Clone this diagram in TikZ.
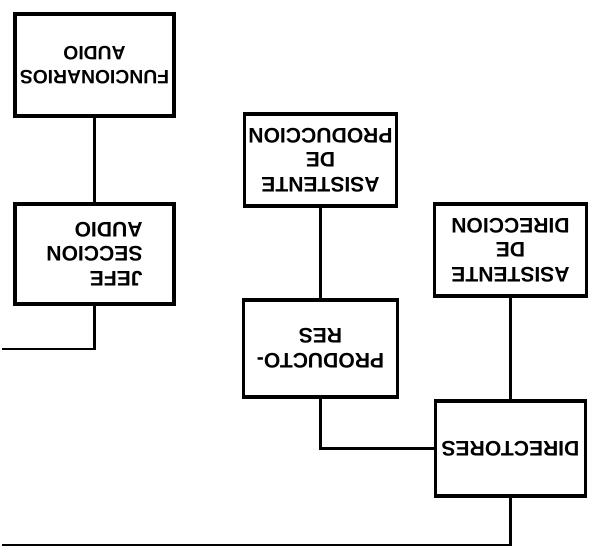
\documentclass[tikz,border=0pt]{standalone}
\usepackage{fontspec}
\setmainfont{Liberation Sans}
\tikzset{
  caja/.style={draw, line width=3.2pt, rotate=180, inner sep=0pt, align=center,
    font=\bfseries\fontsize{18}{21}\selectfont},
  linea/.style={line width=2.5pt}
}
\begin{document}
\begin{tikzpicture}[x=0.03cm,y=-0.03cm]
  \useasboundingbox (0,0) rectangle (592,549);
  \node[caja, minimum width=4.77cm, minimum height=3.06cm, font=\bfseries\fontsize{16.5}{21}\selectfont] (func) at (94.5,65) {FUNCIONARIOS\\AUDIO};
  \node[caja, minimum width=4.77cm, minimum height=3.0cm, align=left] (jefe) at (94.5,254) {JEFE\\SECCION\\AUDIO};
  \node[caja, minimum width=4.56cm, minimum height=2.76cm] (aprod) at (320.5,160) {ASISTENTE\\DE\\PRODUCCION};
  \node[caja, minimum width=4.62cm, minimum height=2.91cm] (prod) at (320.5,348.5) {PRODUCTO-\\RES};
  \node[caja, minimum width=4.56cm, minimum height=2.76cm] (adir) at (510.5,250) {ASISTENTE\\DE\\DIRECCION};
  \node[caja, minimum width=4.5cm, minimum height=2.85cm] (dir) at (510.5,448.5) {DIRECTORES};
  \coordinate (finA) at (2,349);
  \coordinate (finB) at (2,545);
  \draw[linea] (func) -- (jefe);
  \draw[linea] (jefe) |- (finA);
  \draw[linea] (aprod) -- (prod);
  \draw[linea] (prod) |- (dir);
  \draw[linea] (adir) -- (dir);
  \draw[linea] (dir) |- (finB);
\end{tikzpicture}
\end{document}
